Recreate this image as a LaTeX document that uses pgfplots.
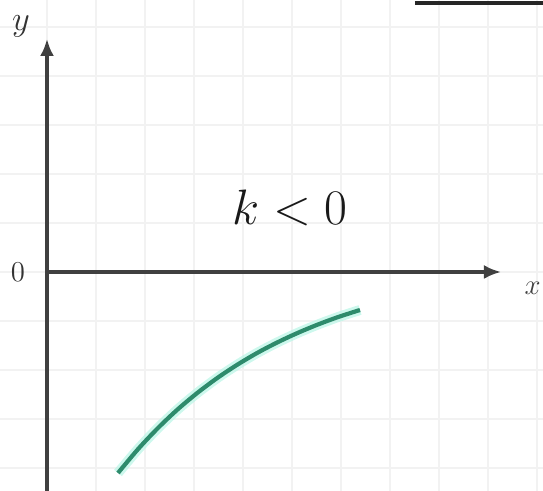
\documentclass[border=0pt]{standalone}
\usepackage{pgfplots}
\pgfplotsset{compat=1.18}
\usetikzlibrary{arrows.meta}
\definecolor{curveteal}{HTML}{2E8B6C}
\definecolor{glow}{HTML}{B8F5E6}
\definecolor{axisgray}{HTML}{404040}
\begin{document}
\begin{tikzpicture}
\begin{axis}[
  scale only axis, width=271.5pt, height=245.5pt,
  xmin=-47, xmax=496, ymin=-219, ymax=272,
  axis line style={draw=none},
  xtick={0,49,...,490}, ytick={-196,-147,...,270},
  xticklabels={}, yticklabels={},
  major tick length=0pt,
  grid=major, grid style={color=black!5, line width=1pt},
  clip=false,
]
% glow under curve
\addplot[glow, line width=5pt, smooth, opacity=0.7] coordinates {
  (71,-201) (91,-177.2) (111,-156.0) (131,-137.1) (151,-120.4) (171,-105.5) (191,-92.3)
  (211,-80.5) (231,-70.1) (251,-60.8) (271,-52.5) (291,-45.1) (313,-38)};
% curve
\addplot[curveteal, line width=2.1pt, smooth] coordinates {
  (71,-201) (91,-177.2) (111,-156.0) (131,-137.1) (151,-120.4) (171,-105.5) (191,-92.3)
  (211,-80.5) (231,-70.1) (251,-60.8) (271,-52.5) (291,-45.1) (313,-38)};
% y axis
\addplot[axisgray, line width=1.6pt, -{Latex[length=8.5pt,width=7pt]}] coordinates {(0,-219) (0,233)};
% x axis
\addplot[axisgray, line width=1.6pt, -{Latex[length=8.5pt,width=7pt]}] coordinates {(0,0) (454,0)};
% top-right border fragment
\addplot[black!85, line width=2pt] coordinates {(368,269) (500,269)};
\node[font=\fontsize{16}{19}\selectfont, text=black!80] at (axis cs:-26,246) {$y$};
\node[font=\fontsize{14}{17}\selectfont, text=black!80] at (axis cs:-29,0) {$0$};
\node[font=\fontsize{15}{18}\selectfont, text=black!75, anchor=east, inner sep=1pt] at (axis cs:496,-16) {$x$};
\node[font=\fontsize{23}{28}\selectfont, text=black!90] at (axis cs:243,64) {$k<0$};
\end{axis}
\pgfresetboundingbox
\path (current axis.south west) rectangle (current axis.north east);
\end{tikzpicture}
\end{document}
